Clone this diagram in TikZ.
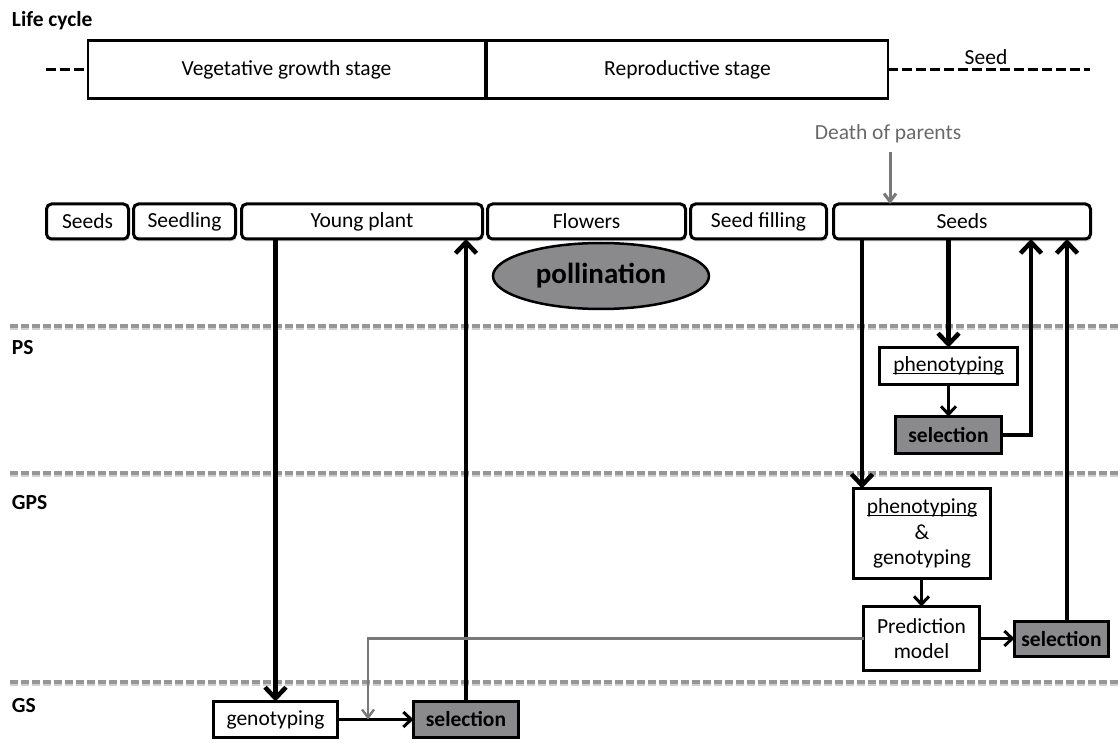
\documentclass[tikz,border=0pt]{standalone}
\usepackage{fontspec}
\setmainfont{Carlito}
\usetikzlibrary{arrows.meta,shapes.geometric,shadows}

\definecolor{boxgray}{RGB}{138,138,140}
\definecolor{sepgray}{RGB}{150,150,150}
\definecolor{txtgray}{RGB}{105,105,105}
\definecolor{linkgray}{RGB}{120,120,120}

% underline that runs through the descenders
\newcommand\ulword[1]{\setbox0=\hbox{#1}\rlap{\rule[-2.5pt]{\wd0}{1.4pt}}\box0}

\begin{document}
\begin{tikzpicture}[x=1pt,y=-1pt,
  every node/.style={font=\fontsize{21.5}{25.5}\selectfont, inner sep=0pt, outer sep=0pt},
  lbl/.style={anchor=base west, font=\fontsize{21.5}{25.5}\selectfont\bfseries},
  lcbox/.style={draw, line width=2.5pt, minimum height=58},
  stage/.style={draw, fill=white, line width=3pt, rounded corners=5pt, minimum height=35,
    drop shadow={opacity=0.35, shadow xshift=1pt, shadow yshift=-2.5pt}},
  plainbox/.style={draw, fill=white, line width=2.5pt, align=center},
  selbox/.style={draw, fill=boxgray, line width=2.5pt, font=\fontsize{21.5}{25.5}\selectfont\bfseries},
  sep/.style={sepgray, line width=3.5pt, dash pattern=on 8pt off 3pt},
  sepshadow/.style={sepgray!45, line width=3pt, dash pattern=on 8pt off 3pt},
  bigarrow/.style={line width=4.5pt, line join=miter, -{Straight Barb[length=11pt,width=21pt]}},
  smallarrow/.style={line width=3pt, -{Straight Barb[length=8pt,width=15pt]}},
  grayarrow/.style={linkgray, line width=2.4pt, -{Straight Barb[length=8pt,width=12pt]}},
  lcdash/.style={line width=3pt, dash pattern=on 10pt off 4pt}
]
\useasboundingbox (0,0) rectangle (1120,743);

% ---------------- life cycle ----------------
\node[lbl] (lifecycle) at (12,27) {Life cycle};
\node[lcbox, minimum width=397] (veg) at (286.5,69.5) {Vegetative growth stage};
\node[lcbox, minimum width=401] (rep) at (687.5,69.5) {Reproductive stage};
\coordinate (lcleft) at (46,69.5);
\coordinate (lcright) at (1090,69.5);
\draw[lcdash] (lcleft) -- (veg.west);
\draw[lcdash] (rep.east) -- (lcright);
\node (seedlbl) at (986,57) {Seed};

% ---------------- selection schemes ----------------
\draw[sepshadow] (10,328.5) -- (1120,328.5);
\draw[sepshadow] (10,475.5) -- (1120,475.5);
\draw[sepshadow] (10,684.5) -- (1120,684.5);
\draw[sep] (10,326) -- (1120,326);
\draw[sep] (10,473) -- (1120,473);
\draw[sep] (10,682) -- (1120,682);
\node[lbl] (ps) at (12,355) {PS};
\node[lbl] (gpsl) at (12,509) {GPS};
\node[lbl] (gsl) at (12,712) {GS};

% ---------------- plant stages ----------------
\node[stage, minimum width=82] (s1) at (87.5,221.5) {Seeds};
\node[stage, minimum width=102] (s2) at (184.5,221.5) {Seedling};
\node[stage, minimum width=241] (s3) at (362,221.5) {Young plant};
\node[stage, minimum width=198] (s4) at (586.5,221.5) {Flowers};
\node[stage, minimum width=136] (s5) at (758.5,221.5) {Seed filling};
\node[stage, minimum width=257] (s6) at (962,221.5) {Seeds};

\node[ellipse, draw, fill=boxgray, line width=2.5pt, minimum width=216, minimum height=66,
  font=\fontsize{29}{32}\selectfont\bfseries] (poll) at (601,276) {pollination};

\node[txtgray] (death) at (888,134) {Death of parents};
\coordinate (deathtop) at (890,152);
\draw[grayarrow, line width=3pt] (deathtop) -- (deathtop |- s6.north);

% ---------------- boxes ----------------
\node[plainbox, minimum width=138, minimum height=37] (ph) at (948.5,366) {\ulword{phenotyping}};
\node[selbox, minimum width=106, minimum height=37] (sel1) at (948.5,435) {selection};
\node[plainbox, minimum width=137, minimum height=90] (gps) at (922,533.5)
  {\ulword{phenotyping}\\\&\\genotyping};
\node[plainbox, minimum width=116, minimum height=64] (pred) at (921.5,638.5) {Prediction\\model};
\node[selbox, minimum width=94, minimum height=35] (sel2) at (1061.5,639) {selection};
\node[plainbox, minimum width=124, minimum height=36] (gen) at (275.5,719.5) {genotyping};
\node[selbox, minimum width=105, minimum height=36] (sel3) at (466,719.5) {selection};

% ---------------- connectors ----------------
\coordinate (xgps) at (862,0);
\coordinate (xps) at (1031,0);
\coordinate (xgp) at (1067,0);
\coordinate (xgray) at (368,0);

\draw[bigarrow] (s3.south -| gen.north) -- (gen.north);
\draw[bigarrow] (sel3.north) -- (sel3.north |- s3.south);
\draw[bigarrow] (s6.south -| xgps) -- (xgps |- gps.north);
\draw[bigarrow] (s6.south -| ph.north) -- (ph.north);
\draw[smallarrow] (ph.south) -- (sel1.north);
\draw[bigarrow] (sel1.east) -- (sel1.east -| xps) -- (xps |- s6.south);
\draw[smallarrow] (gps.south -| pred.north) -- (pred.north);
\draw[smallarrow] (pred.east) -- (pred.east -| sel2.west);
\draw[bigarrow] (sel2.north -| xgp) -- (xgp |- s6.south);
\draw[smallarrow] (gen.east) -- (gen.east -| sel3.west);
\draw[grayarrow] (pred.west) -- (pred.west -| xgray) -- (xgray |- gen.east);

\end{tikzpicture}
\end{document}
